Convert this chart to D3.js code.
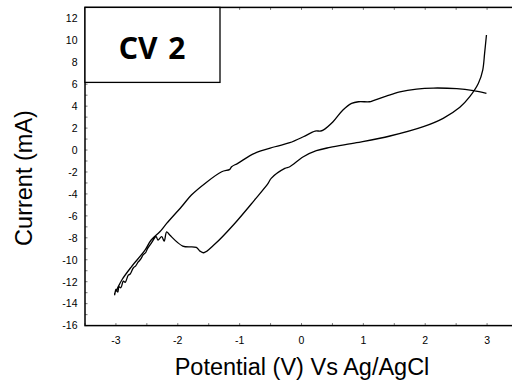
<!DOCTYPE html>
<html>
<head>
<meta charset="utf-8">
<script src="https://cdn.jsdelivr.net/npm/d3@7"></script>
<style>
  body { margin: 0; background: #fff; }
  svg { display: block; }
  .tick-label { font-family: Arial, "Liberation Sans", sans-serif; font-size: 10.5px; fill: #000; }
  .axis-title { font-family: Arial, "Liberation Sans", sans-serif; font-size: 23.5px; fill: #000; }
</style>
</head>
<body>
<div id="chart"></div>
<script>
// potential (V) and current (mA)
// reverse sweep: from +3 V down to -3 V
const potentialBack = [2.99, 2.78, 2.51, 2.13, 1.86, 1.59, 1.37, 1.16, 1.10, 0.92, 0.81, 0.67, 0.51, 0.35, 0.30, 0.22, 0.03, -0.19, -0.43, -0.76, -1.03, -1.13, -1.16, -1.29, -1.56, -1.78, -1.94, -2.18, -2.29, -2.43, -2.53, -2.75, -2.90, -2.99, -3.02]
const currentBack   = [5.17, 5.41, 5.59, 5.65, 5.56, 5.31, 4.92, 4.50, 4.40, 4.40, 4.25, 3.65, 2.58, 1.82, 1.73, 1.73, 1.21, 0.67, 0.30, -0.30, -1.21, -1.52, -1.76, -1.98, -3.04, -4.10, -5.17, -6.69, -7.45, -8.20, -9.12, -10.64, -11.80, -12.76, -13.06]

// forward sweep: from -3 V up to +3 V (noisy near -3 V)
const potentialFwd = [-3.02, -3.00, -2.97, -2.95, -2.92, -2.88, -2.85, -2.80, -2.77, -2.72, -2.68, -2.64, -2.60, -2.56, -2.52, -2.49, -2.43, -2.35, -2.32, -2.26, -2.22, -2.18, -2.13, -1.92, -1.70, -1.64, -1.58, -1.40, -1.08, -0.76, -0.54, -0.49, -0.27, -0.19, 0.03, 0.24, 0.46, 0.89, 1.43, 1.97, 2.29, 2.56, 2.72, 2.86, 2.93, 2.96, 2.99]
const currentFwd   = [-13.20, -12.70, -12.95, -12.45, -12.55, -11.95, -12.05, -11.40, -11.30, -10.75, -10.55, -10.20, -9.95, -9.55, -9.35, -9.00, -8.51, -7.90, -8.20, -7.90, -8.30, -7.45, -7.75, -8.75, -8.87, -9.21, -9.36, -8.57, -6.69, -4.56, -3.04, -2.58, -1.67, -1.52, -0.61, -0.06, 0.24, 0.67, 1.28, 2.13, 2.89, 3.89, 4.86, 6.08, 7.29, 8.81, 10.48]

const xTicks = [-3, -2, -1, 0, 1, 2, 3]
const yTicks = [-16, -14, -12, -10, -8, -6, -4, -2, 0, 2, 4, 6, 8, 10, 12]

let width = 512
let height = 385

let svg = d3.select('#chart').append('svg')
  .attr('width', width)
  .attr('height', height)

let x = d3.scaleLinear().domain([-3.5, 3.5]).range([85, 518])
let y = d3.scaleLinear().domain([-16, 13]).range([325.6, 7.4])

let frameGroup = svg.append('g')
let lineGroup = svg.append('g')

// minor ticks, pointing inward
let xMinor = d3.range(-3.5, 3.51, 0.5)
let yMinor = d3.range(-16, 13.01, 1)

frameGroup.selectAll('.xt-b')
  .data(xMinor)
  .enter()
  .append('line')
  .attr('x1', d => x(d)).attr('x2', d => x(d))
  .attr('y1', y(-16)).attr('y2', y(-16) - 2.5)
  .attr('stroke', '#777').attr('stroke-width', 1)

frameGroup.selectAll('.xt-t')
  .data(xMinor)
  .enter()
  .append('line')
  .attr('x1', d => x(d)).attr('x2', d => x(d))
  .attr('y1', y(13)).attr('y2', y(13) + 2.5)
  .attr('stroke', '#777').attr('stroke-width', 1)

frameGroup.selectAll('.yt-l')
  .data(yMinor)
  .enter()
  .append('line')
  .attr('x1', x(-3.5)).attr('x2', x(-3.5) + 2.5)
  .attr('y1', d => y(d)).attr('y2', d => y(d))
  .attr('stroke', '#777').attr('stroke-width', 1)

// frame
frameGroup.append('rect')
  .attr('x', x(-3.5))
  .attr('y', y(13))
  .attr('width', x(3.5) - x(-3.5))
  .attr('height', y(-16) - y(13))
  .attr('fill', 'none')
  .attr('stroke', '#000')
  .attr('stroke-width', 1.5)

// tick labels
svg.selectAll('.xl')
  .data(xTicks)
  .enter()
  .append('text')
  .attr('class', 'tick-label')
  .attr('x', d => x(d))
  .attr('y', 343.5)
  .attr('text-anchor', 'middle')
  .text(d => d)

svg.selectAll('.yl')
  .data(yTicks)
  .enter()
  .append('text')
  .attr('class', 'tick-label')
  .attr('x', 77.5)
  .attr('y', d => y(d) + 3.8)
  .attr('text-anchor', 'end')
  .text(d => d)

// axis titles
svg.append('text')
  .attr('class', 'axis-title')
  .attr('x', 302)
  .attr('y', 374.5)
  .attr('text-anchor', 'middle')
  .text('Potential (V) Vs Ag/AgCl')

svg.append('text')
  .attr('class', 'axis-title')
  .attr('transform', 'translate(32,178) rotate(-90)')
  .attr('text-anchor', 'middle')
  .text('Current (mA)')

// the CV curve
let pts = potentialBack.map((v, i) => [v, currentBack[i]])
  .concat(potentialFwd.map((v, i) => [v, currentFwd[i]]))

let line = d3.line()
  .x(d => x(d[0]))
  .y(d => y(d[1]))
  .curve(d3.curveCatmullRom.alpha(0.5))

lineGroup.append('path')
  .datum(pts)
  .attr('d', line)
  .attr('fill', 'none')
  .attr('stroke', '#000')
  .attr('stroke-width', 1.3)

// label box
let boxGroup = svg.append('g')

boxGroup.append('rect')
  .attr('x', x(-3.5))
  .attr('y', y(13))
  .attr('width', 135)
  .attr('height', 75)
  .attr('fill', '#fff')
  .attr('stroke', '#000')
  .attr('stroke-width', 1.3)

boxGroup.append('text')
  .attr('x', 152)
  .attr('y', 59)
  .attr('text-anchor', 'middle')
  .style('font-family', '"Noto Sans", "Open Sans", sans-serif')
  .style('font-weight', 'bold')
  .style('font-size', '30px')
  .style('word-spacing', '3px')
  .text('CV 2')
</script>
</body>
</html>
